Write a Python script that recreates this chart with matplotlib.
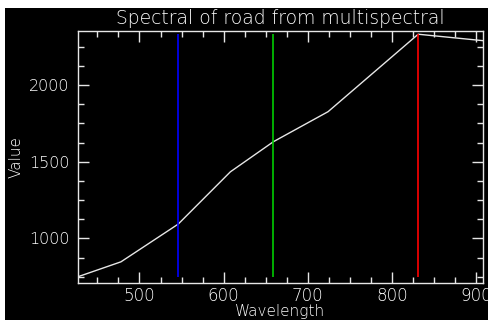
"""
Spectral profile of road pixel from multispectral image (IDL-style plot).
"""
import matplotlib
matplotlib.use("Agg")
import matplotlib.pyplot as plt
from matplotlib.ticker import MultipleLocator
from matplotlib.patches import Rectangle

# ==================== DATA ====================
wavelength = [427, 478, 546, 608, 659, 724, 831, 908]
value = [750, 847, 1093, 1434, 1630, 1826, 2331, 2289]

band_lines = [546, 659, 831]
band_colors = ['#0000ff', '#00cc00', '#ff0000']

XLIM = (427, 908)
YLIM = (709, 2352)

# ==================== PLOT ====================
fig = plt.figure(figsize=(4.89, 3.2), dpi=100)
fig.patch.set_facecolor('white')

# black canvas, leaving a thin white strip on the left and top
fig.add_artist(Rectangle((5 / 489, 0), 1, 1 - 8 / 320, transform=fig.transFigure,
                         facecolor='black', edgecolor='none', zorder=0))

ax = fig.add_axes([78 / 489, 1 - 283 / 320, 405 / 489, 252 / 320])
ax.set_facecolor('black')

ax.plot(wavelength, value, color='#e6e6e6', linewidth=1.0)
vmin, vmax = min(value), max(value)
for wl, c in zip(band_lines, band_colors):
    ax.vlines(wl, vmin, vmax, color=c, linewidth=1.2)

ax.set_xlim(*XLIM)
ax.set_ylim(*YLIM)

ax.xaxis.set_major_locator(MultipleLocator(100))
ax.xaxis.set_minor_locator(MultipleLocator(25))
ax.yaxis.set_major_locator(MultipleLocator(500))
ax.yaxis.set_minor_locator(MultipleLocator(125))

for s in ax.spines.values():
    s.set_color('#e6e6e6')
    s.set_linewidth(1.0)

ax.tick_params(which='both', direction='in', colors='#e6e6e6',
               top=True, right=True, width=1.0)
ax.tick_params(which='major', length=8)
ax.tick_params(which='minor', length=4)
ax.tick_params(axis='x', labelsize=12, pad=3)
ax.tick_params(axis='y', labelsize=11.5, pad=6)
for lbl in ax.get_xticklabels() + ax.get_yticklabels():
    lbl.set_color('white')
    lbl.set_fontweight('light')

ax.set_title('Spectral of road from multispectral', color='white',
             fontsize=13.5, pad=5, fontweight='light')
ax.set_xlabel('Wavelength', color='white', fontsize=11, labelpad=-1,
              fontweight='light')
ax.set_ylabel('Value', color='white', fontsize=11, labelpad=4,
              fontweight='light')

plt.savefig('out.png', dpi=100, facecolor=fig.get_facecolor())
plt.close()
